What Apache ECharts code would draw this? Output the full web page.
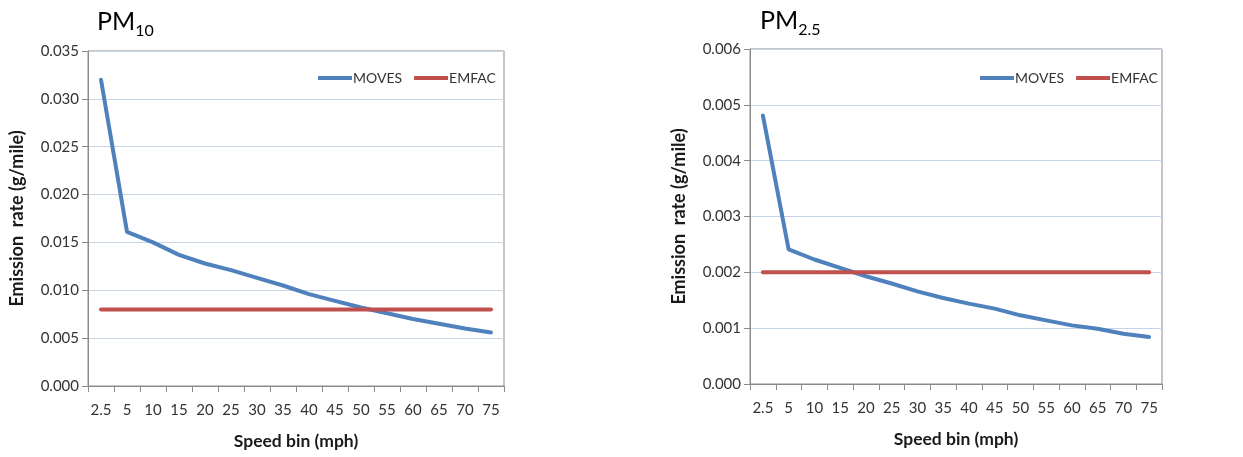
<!DOCTYPE html>
<html>
<head>
<meta charset="utf-8">
<script src="https://cdn.jsdelivr.net/npm/echarts@6/dist/echarts.min.js"></script>
<style>
html,body{margin:0;padding:0;background:#fff;}
#c{width:1243px;height:457px;}
</style>
</head>
<body>
<div id="c"></div>
<script>
const categories = ['2.5','5','10','15','20','25','30','35','40','45','50','55','60','65','70','75'];
const pm10Moves = [0.0320,0.0161,0.0150,0.0137,0.0128,0.0121,0.0113,0.0105,0.0096,0.0089,0.0082,0.0076,0.0070,0.0065,0.0060,0.0056];
const pm10Emfac = [0.0080,0.0080,0.0080,0.0080,0.0080,0.0080,0.0080,0.0080,0.0080,0.0080,0.0080,0.0080,0.0080,0.0080,0.0080,0.0080];
const pm25Moves = [0.00481,0.00241,0.00223,0.00208,0.00193,0.00180,0.00166,0.00154,0.00144,0.00135,0.00123,0.00114,0.00105,0.00099,0.00090,0.00084];
const pm25Emfac = [0.0020,0.0020,0.0020,0.0020,0.0020,0.0020,0.0020,0.0020,0.0020,0.0020,0.0020,0.0020,0.0020,0.0020,0.0020,0.0020];
const pm10Ticks = {min:0, max:0.035, interval:0.005};
const pm25Ticks = {min:0, max:0.006, interval:0.001};

const FONT = 'Lato';
const chart = echarts.init(document.getElementById('c'));

function xAxis(gi){
  return {
    type:'category', gridIndex:gi, data:categories, boundaryGap:true,
    name:'Speed bin (mph)', nameLocation:'middle', nameGap:46,
    nameTextStyle:{fontFamily:FONT, fontWeight:'bold', fontSize:17.5, color:'#1a1a1a'},
    axisLine:{lineStyle:{color:'#8c8c8c', width:1}},
    axisTick:{show:true, length:6, interval:0, lineStyle:{color:'#8c8c8c'}},
    axisLabel:{interval:0, fontFamily:FONT, fontSize:15, color:'#333', margin:17},
    splitLine:{show:false}
  };
}
function yAxis(gi, t){
  return {
    type:'value', gridIndex:gi, min:t.min, max:t.max, interval:t.interval,
    name:'Emission  rate (g/mile)', nameLocation:'middle', nameGap:62, nameRotate:90,
    nameTextStyle:{fontFamily:FONT, fontWeight:'bold', fontSize:18, color:'#1a1a1a'},
    axisLine:{show:true, lineStyle:{color:'#8c8c8c', width:1}},
    axisTick:{show:true, length:6, lineStyle:{color:'#8c8c8c'}},
    axisLabel:{fontFamily:FONT, fontSize:15, color:'#333', margin:9,
      formatter:v=>v.toFixed(3)},
    splitLine:{show:true, lineStyle:{color:'#c6d5ea', width:1}}
  };
}
function line(name, data, gi, color){
  return {
    type:'line', name:name, data:data, xAxisIndex:gi, yAxisIndex:gi,
    symbol:'none', smooth:false, lineStyle:{color:color, width:4, cap:'round'},
    itemStyle:{color:color}, silent:true, animation:false
  };
}
const titleRich = {
  a:{fontFamily:FONT, fontSize:25, fontWeight:'normal', color:'#000', verticalAlign:'bottom', lineHeight:28, padding:[0,0,5,0]},
  b:{fontFamily:FONT, fontSize:16, fontWeight:'normal', color:'#000', verticalAlign:'bottom', lineHeight:16}
};
chart.setOption({
  animation:false,
  title:[
    {text:'{a|PM}{b|10}', left:92, top:6, textStyle:{rich:titleRich, fontWeight:'normal'}},
    {text:'{a|PM}{b|2.5}', left:755, top:5, textStyle:{rich:titleRich, fontWeight:'normal'}}
  ],
  legend:[
    {left:313, top:66, icon:'rect', itemWidth:34, itemHeight:4, itemGap:12,
     textStyle:{fontFamily:FONT, fontSize:14, color:'#333', padding:[0,0,0,-4]},
     data:['MOVES','EMFAC'], selectedMode:false},
    {left:975, top:66, icon:'rect', itemWidth:34, itemHeight:4, itemGap:12,
     textStyle:{fontFamily:FONT, fontSize:14, color:'#333', padding:[0,0,0,-4]},
     data:['MOVES','EMFAC'], selectedMode:false}
  ],
  grid:[
    {left:88, top:51, width:416, height:335, show:true, borderColor:'#8c8c8c', borderWidth:1, containLabel:false},
    {left:750, top:49, width:412, height:335, show:true, borderColor:'#8c8c8c', borderWidth:1, containLabel:false}
  ],
  xAxis:[xAxis(0), xAxis(1)],
  yAxis:[yAxis(0, pm10Ticks), yAxis(1, pm25Ticks)],
  series:[
    line('MOVES', pm10Moves, 0, '#4f81bd'),
    line('EMFAC', pm10Emfac, 0, '#c0504d'),
    line('MOVES', pm25Moves, 1, '#4f81bd'),
    line('EMFAC', pm25Emfac, 1, '#c0504d')
  ]
});
</script>
</body>
</html>
